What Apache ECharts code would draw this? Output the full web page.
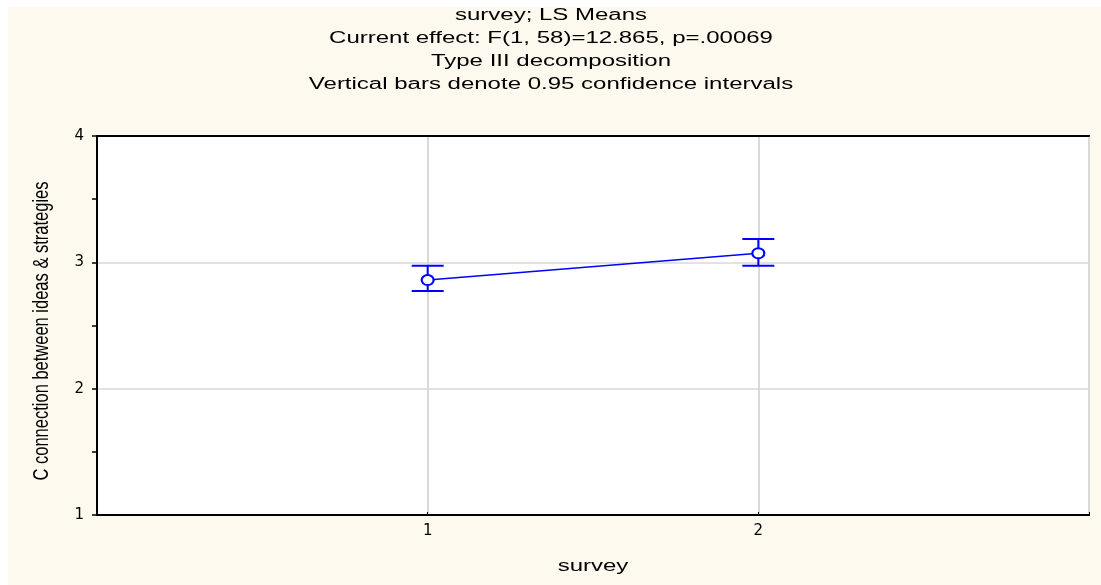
<!DOCTYPE html>
<html>
<head>
<meta charset="utf-8">
<script src="https://cdn.jsdelivr.net/npm/echarts@6/dist/echarts.min.js"></script>
<style>html,body{margin:0;padding:0;background:#fff}#c{width:1101px;height:585px}</style>
</head>
<body>
<div id="c"></div>
<script>
const categories = [1, 2];
const means = [2.860, 3.072];
const lower = [2.773, 2.973];
const upper = [2.973, 3.185];
const yTicks = [1, 2, 3, 4];
const titleLines = [
  'survey; LS Means',
  'Current effect: F(1, 58)=12.865, p=.00069',
  'Type III decomposition',
  'Vertical bars denote 0.95 confidence intervals'
];
const xName = 'survey';
const yName = 'C connection between ideas & strategies';

const FAM = '"Liberation Sans", Arial, sans-serif';
const STRETCH = 1.5;
const chart = echarts.init(document.getElementById('c'), null, {renderer: 'canvas'});

const textEls = titleLines.map((t, i) => ({
  type: 'text', silent: true, z: 10,
  x: 551, y: 16 + 23 * i, scaleX: STRETCH,
  style: {text: t, fontFamily: FAM, fontSize: 16, fill: '#000', align: 'center', verticalAlign: 'middle'}
}));
textEls.push({
  type: 'text', silent: true, z: 10,
  x: 593, y: 567, scaleX: STRETCH,
  style: {text: xName, fontFamily: FAM, fontSize: 16, fill: '#000', align: 'center', verticalAlign: 'middle'}
});
textEls.push({
  type: 'text', silent: true, z: 10,
  x: 42, y: 331, rotation: Math.PI / 2, scaleY: 1.35,
  style: {text: yName, fontFamily: FAM, fontSize: 16.5, fill: '#000', align: 'center', verticalAlign: 'middle'}
});

const option = {
  backgroundColor: '#ffffff',
  animation: false,
  graphic: [{
    type: 'rect', z: -10, silent: true,
    shape: {x: 8, y: 7, width: 1101, height: 585},
    style: {fill: '#FEF9EE'}
  }].concat(textEls),
  grid: {
    left: 97, top: 136, right: 12, bottom: 70,
    show: true, backgroundColor: '#ffffff', borderColor: '#000', borderWidth: 2
  },
  xAxis: [{
    type: 'value', min: 0, max: 3, interval: 1,
    axisLine: {show: true, lineStyle: {color: '#000', width: 2}},
    axisTick: {show: true, inside: true, length: 3, lineStyle: {color: '#000', width: 1}},
    axisLabel: {
      fontFamily: '"DejaVu Sans", sans-serif', fontSize: 15, color: '#000', margin: 9,
      formatter: v => categories.indexOf(v) >= 0 ? String(v) : ''
    },
    splitLine: {show: true, lineStyle: {color: '#d9d9d9', width: 2}}
  }, {
    type: 'value', position: 'top', min: 0, max: 3, interval: 1,
    axisLine: {show: true, lineStyle: {color: '#000', width: 2}},
    axisTick: {show: false}, axisLabel: {show: false}, splitLine: {show: false}
  }],
  yAxis: [{
    type: 'value', min: yTicks[0], max: yTicks[yTicks.length - 1], interval: 1,
    axisLine: {show: true, lineStyle: {color: '#000', width: 2}},
    axisTick: {show: false},
    axisLabel: {fontFamily: '"DejaVu Sans", sans-serif', fontSize: 15, color: '#000', margin: 13},
    splitLine: {show: true, lineStyle: {color: '#d9d9d9', width: 1.5}}
  }, {
    type: 'value', position: 'right', min: 1, max: 4, interval: 0.5,
    axisLine: {show: true, lineStyle: {color: '#000', width: 2}},
    axisTick: {show: true, inside: true, length: 5, lineStyle: {color: '#000', width: 1.5}},
    axisLabel: {show: false},
    splitLine: {show: false}
  }],
  series: [{
    type: 'custom',
    z: 3,
    data: categories.map((c, i) => [c, lower[i], upper[i]]),
    renderItem: function (params, api) {
      const x = api.value(0);
      const lo = api.coord([x, api.value(1)]);
      const hi = api.coord([x, api.value(2)]);
      const hw = 16;
      const st = {stroke: '#0000ff', lineWidth: 2};
      return {
        type: 'group',
        children: [
          {type: 'line', shape: {x1: lo[0], y1: lo[1], x2: hi[0], y2: hi[1]}, style: st},
          {type: 'line', shape: {x1: lo[0] - hw, y1: lo[1], x2: lo[0] + hw, y2: lo[1]}, style: st},
          {type: 'line', shape: {x1: hi[0] - hw, y1: hi[1], x2: hi[0] + hw, y2: hi[1]}, style: st}
        ]
      };
    }
  }, {
    type: 'line',
    z: 4,
    data: categories.map((c, i) => [c, means[i]]),
    symbol: 'circle',
    symbolSize: [12, 10],
    lineStyle: {color: '#0000ff', width: 1.5},
    itemStyle: {color: '#ffffff', borderColor: '#0000ff', borderWidth: 2}
  }]
};
chart.setOption(option);
</script>
</body>
</html>
